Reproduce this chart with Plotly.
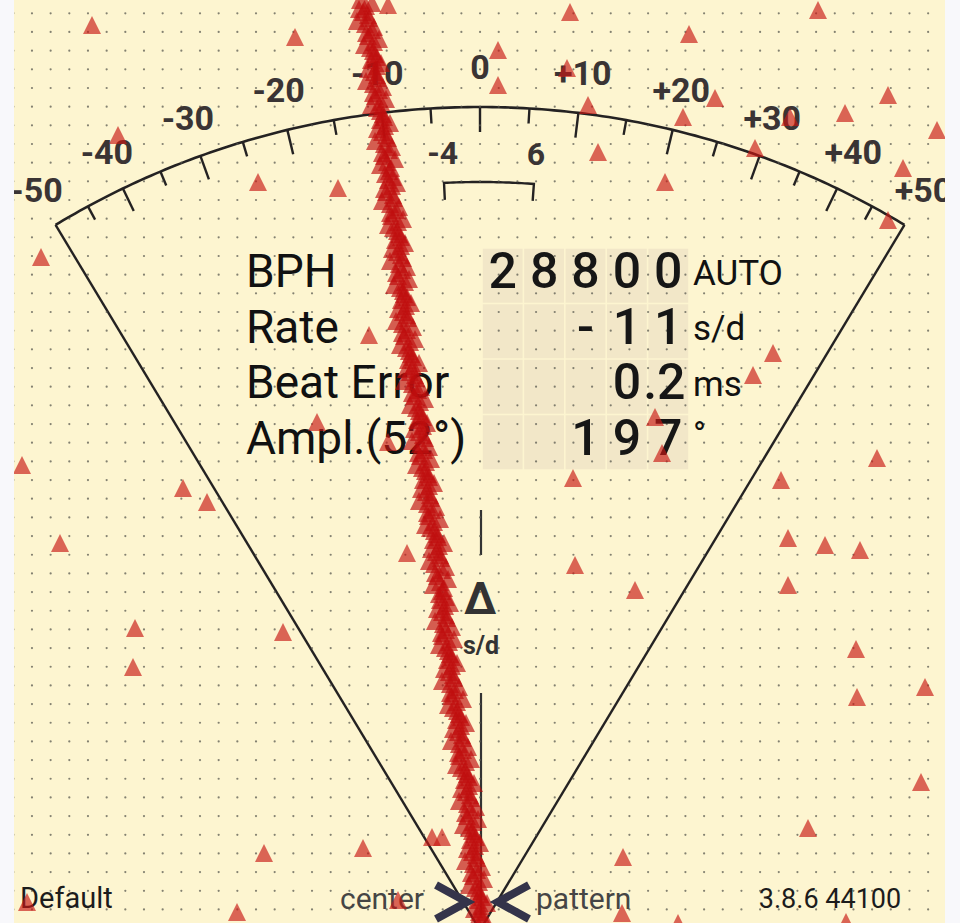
import math
import numpy as np
import plotly.graph_objects as go

# ---------------- data ----------------
scale_label_values = [-50, -40, -30, -20, -10, 0, 10, 20, 30, 40, 50]
scale_label_texts = ["-50", "-40", "-30", "-20", "-10", "0", "+10", "+20", "+30", "+40", "+50"]
scale_tick_values = list(range(-45, 50, 5))
bracket_values = [-4, 6]
bracket_texts = ["-4", "6"]

readout_names = ["BPH", "Rate", "Beat Error", "Ampl.(52°)"]
readout_cells = [
    ["2", "8", "8", "0", "0"],
    ["", "", "-", "1", "1"],
    ["", "", "", "0", ".2"],
    ["", "", "1", "9", "7"],
]
readout_units = ["AUTO", "s/d", "ms", "°"]
footer_texts = ["Default", "center", "pattern", "3.8.6 44100"]

# beat trace: horizontal position of each beat (one tick + one tock per 6 px of scroll)
tick_x = [
    360, 366, 363, 369, 365, 372, 368, 374, 370, 375,
    371, 377, 374, 378, 373, 379, 375, 381, 377, 383,
    380, 385, 382, 388, 384, 389, 384, 387, 391, 385,
    388, 392, 386, 394, 390, 396, 391, 398, 393, 399,
    395, 401, 397, 403, 399, 402, 398, 405, 400, 404,
    401, 406, 403, 408, 402, 407, 404, 410, 406, 411,
    408, 413, 410, 416, 412, 418, 414, 420, 416, 421,
    417, 423, 419, 425, 420, 424, 420, 426, 422, 428,
    423, 429, 426, 431, 427, 432, 428, 434, 430, 437,
    433, 439, 436, 441, 434, 442, 437, 440, 444, 439,
    440, 445, 442, 447, 443, 446, 442, 449, 445, 450,
    447, 452, 449, 454, 450, 455, 451, 457, 453, 459,
    456, 461, 458, 463, 459, 463, 459, 466, 461, 467,
    464, 469, 466, 471, 467, 471, 467, 473, 469, 474,
    470, 475, 472, 477, 473, 477, 473, 479, 475, 480,
    477, 481, 479, 483,
]
tock_x = [
    372, 359, 368, 357, 374, 366, 379, 364, 373, 377,
    381, 368, 377, 366, 383, 373, 386, 371, 380, 384,
    390, 377, 386, 375, 392, 382, 395, 380, 389, 393,
    397, 384, 393, 382, 399, 390, 403, 388, 397, 401,
    405, 392, 401, 390, 407, 396, 409, 394, 403, 407,
    411, 398, 407, 396, 413, 402, 415, 400, 409, 413,
    419, 406, 415, 404, 421, 412, 425, 410, 419, 423,
    427, 414, 423, 412, 429, 418, 431, 416, 425, 429,
    434, 421, 430, 419, 436, 427, 440, 425, 434, 438,
    444, 431, 440, 429, 446, 435, 448, 433, 442, 446,
    450, 437, 446, 435, 452, 441, 454, 439, 448, 452,
    457, 444, 453, 442, 459, 450, 463, 448, 457, 461,
    466, 453, 462, 451, 468, 458, 471, 456, 465, 469,
    474, 461, 470, 459, 476, 465, 478, 463, 472, 476,
    480, 467, 476, 465, 482, 471, 484, 469, 478, 482,
    487, 474, 483, 476,
]
beat_step = 6

# isolated (noise) beats
noise_x = [92, 295, 388, 570, 818, 689, 498, 498, 567, 588, 598, 715, 683, 665, 755,
           790, 888, 845, 937, 903, 888, 118, 258, 338, 41, 369, 317, 388, 22, 183,
           207, 60, 407, 135, 133, 283, 432, 442, 363, 264, 27, 237, 398, 573, 877,
           781, 788, 825, 860, 788, 575, 635, 856, 925, 857, 921, 808, 623, 622, 678,
           846, 773, 753, 655, 662]
noise_y = [25, 37, 5, 12, 10, 34, 50, 85, 68, 105, 152, 98, 117, 182, 148,
           117, 95, 113, 130, 168, 220, 135, 182, 188, 257, 335, 422, 442, 465, 488,
           502, 543, 553, 628, 667, 632, 837, 837, 848, 853, 902, 912, 900, 478, 458,
           480, 538, 545, 550, 585, 565, 590, 649, 687, 697, 782, 828, 857, 913, 923,
           922, 353, 375, 417, 453]

# ---------------- geometry ----------------
W, H = 960, 923
PX0, PX1 = 14, 945
CX, CY = 480, 930
R = 823
TAN_MAX = 0.602
INK = "#242222"
TRI = 18


def ang(v):
    return math.atan(v / 50.0 * TAN_MAX)


def pt(v, r):
    a = ang(v)
    return CX + r * math.sin(a), CY - r * math.cos(a)


shapes = []

# readout cells
col_w, row_h = 41.4, 55.5
col0, row0 = 482, 248
for j in range(4):
    for i in range(5):
        x0 = col0 + i * col_w
        y0 = row0 + j * row_h
        shapes.append(dict(type="rect", xref="x", yref="y", x0=x0 + 0.8, x1=x0 + col_w - 0.8,
                           y0=y0 + 0.8, y1=y0 + row_h - 0.8, line=dict(width=0),
                           fillcolor="#f2e7c8", layer="below"))

# arc
arc_pts = [pt(v, R) for v in np.linspace(-50, 50, 161)]
path = "M " + " L ".join(f"{x:.2f},{y:.2f}" for x, y in arc_pts)
shapes.append(dict(type="path", path=path, xref="x", yref="y", line=dict(color=INK, width=2.6), layer="below"))

# fan edges
for v in (-50, 50):
    x1, y1 = pt(v, R)
    shapes.append(dict(type="line", xref="x", yref="y", x0=x1, y0=y1, x1=CX, y1=CY,
                       line=dict(color=INK, width=2.4), layer="below"))

# ticks
for v in scale_tick_values:
    ln = 25 if v % 10 == 0 else 15
    xa, ya = pt(v, R)
    xb, yb = pt(v, R - ln)
    shapes.append(dict(type="line", xref="x", yref="y", x0=xa, y0=ya, x1=xb, y1=yb,
                       line=dict(color=INK, width=2.4), layer="below"))

# bracket
RB = 748
b_pts = [pt(v, RB) for v in np.linspace(bracket_values[0], bracket_values[1], 30)]
bx0, by0 = pt(bracket_values[0], RB - 17)
bx1, by1 = pt(bracket_values[1], RB - 17)
bpath = f"M {bx0:.2f},{by0:.2f} L " + " L ".join(f"{x:.2f},{y:.2f}" for x, y in b_pts) + f" L {bx1:.2f},{by1:.2f}"
shapes.append(dict(type="path", path=bpath, xref="x", yref="y", line=dict(color=INK, width=2.4), layer="below"))

# centre marker line
shapes.append(dict(type="line", xref="x", yref="y", x0=481, x1=481, y0=510, y1=555,
                   line=dict(color="#333333", width=2.2), layer="below"))
shapes.append(dict(type="line", xref="x", yref="y", x0=481, x1=481, y0=693, y1=915,
                   line=dict(color="#333333", width=2.2), layer="below"))

# chevrons
CHEV = "#34344a"
shapes.append(dict(type="path", path="M 436,885 L 467,902 L 436,919", xref="x", yref="y",
                   line=dict(color=CHEV, width=8), layer="above"))
shapes.append(dict(type="path", path="M 529,885 L 498,902 L 529,919", xref="x", yref="y",
                   line=dict(color=CHEV, width=8), layer="above"))

fig = go.Figure()

# dotted background grid
gx = np.arange(13.3, 946, 18.67)
gy = np.arange(13.3, 923, 18.67)
GX, GY = np.meshgrid(gx, gy)
fig.add_trace(go.Scatter(x=GX.ravel(), y=GY.ravel(), mode="markers",
                         marker=dict(size=2.2, color="rgba(90,90,80,0.75)"), hoverinfo="skip"))

# scale labels
lab_pts = [pt(v, 860) for v in scale_label_values]
fig.add_trace(go.Scatter(x=[p[0] for p in lab_pts], y=[p[1] for p in lab_pts], mode="text",
                         text=scale_label_texts, textposition="middle center",
                         textfont=dict(family="Roboto", size=34, color="#3a3434", weight="bold"),
                         hoverinfo="skip"))
blab = [pt(v, 775) for v in bracket_values]
fig.add_trace(go.Scatter(x=[p[0] for p in blab], y=[p[1] for p in blab], mode="text",
                         text=bracket_texts, textposition="middle center",
                         textfont=dict(family="Roboto", size=32, color="#3a3434", weight="bold"),
                         hoverinfo="skip"))

# readout names
row_c = [row0 + row_h * (j + 0.5) for j in range(4)]
fig.add_trace(go.Scatter(x=[246] * 4, y=row_c, mode="text", text=readout_names,
                         textposition="middle right",
                         textfont=dict(family="Roboto", size=46, color="#111111"), hoverinfo="skip"))

# readout digits
dx, dy, dt = [], [], []
for j, row in enumerate(readout_cells):
    for i, s in enumerate(row):
        if s:
            cxp = col0 + col_w * (i + 0.5)
            if s.startswith("."):
                cxp -= 4
            dx.append(cxp)
            dy.append(row_c[j])
            dt.append(s)
fig.add_trace(go.Scatter(x=dx, y=dy, mode="text", text=dt, textposition="middle center",
                         textfont=dict(family="Roboto", size=50, color="#161616", weight=500),
                         hoverinfo="skip"))

# units
fig.add_trace(go.Scatter(x=[693] * 4, y=[row_c[0], row_c[1], row_c[2], row_c[3] - 4], mode="text",
                         text=readout_units, textposition="middle right",
                         textfont=dict(family="Roboto", size=35, color="#111111"), hoverinfo="skip"))

# delta s/d
fig.add_trace(go.Scatter(x=[480, 481], y=[603, 648], mode="text", text=["Δ", "s/d"],
                         textposition="middle center",
                         textfont=dict(family="Roboto", size=[44, 25], color="#333333", weight="bold"),
                         hoverinfo="skip"))

# footer
fig.add_trace(go.Scatter(x=[20, 424], y=[901, 901], mode="text", text=[footer_texts[0], footer_texts[1]],
                         textposition=["middle right", "middle left"],
                         textfont=dict(family="Roboto", size=[29, 30], color=["#1c1c1c", "#454545"]),
                         hoverinfo="skip"))
fig.add_trace(go.Scatter(x=[536, 830], y=[901, 901], mode="text", text=[footer_texts[2], footer_texts[3]],
                         textposition=["middle right", "middle center"],
                         textfont=dict(family="Roboto", size=[30, 27], color=["#454545", "#1c1c1c"]),
                         hoverinfo="skip"))

# beats (triangles, centred via the y2 scale)
fig.add_trace(go.Scatter(x=noise_x, y=noise_y, yaxis="y2", mode="markers",
                         marker=dict(symbol="arrow-up", size=TRI, color="rgba(200,25,20,0.66)",
                                     line=dict(width=0)), hoverinfo="skip"))
tick_y = [k * beat_step for k in range(len(tick_x))]
tock_y = [k * beat_step + beat_step / 2 for k in range(len(tock_x))]
fig.add_trace(go.Scatter(x=tick_x, y=tick_y, yaxis="y2", mode="markers",
                         marker=dict(symbol="arrow-up", size=TRI, color="rgba(192,14,14,0.66)",
                                     line=dict(width=0)), hoverinfo="skip"))
fig.add_trace(go.Scatter(x=tock_x, y=tock_y, yaxis="y2", mode="markers",
                         marker=dict(symbol="arrow-up", size=TRI, color="rgba(192,14,14,0.66)",
                                     line=dict(width=0)), hoverinfo="skip"))

fig.update_layout(
    width=W, height=H, margin=dict(l=0, r=0, t=0, b=0),
    paper_bgcolor="#f8f8fb", plot_bgcolor="#fdf5d0", showlegend=False,
    xaxis=dict(range=[PX0, PX1], domain=[PX0 / W, PX1 / W], visible=False, fixedrange=True),
    yaxis=dict(range=[H, 0], domain=[0, 1], visible=False, fixedrange=True),
    yaxis2=dict(range=[H + TRI / 2, TRI / 2], overlaying="y", visible=False, fixedrange=True),
    shapes=shapes,
)

fig.write_html("out.html", config={"displayModeBar": False},
               post_script="document.body.style.margin='0';document.body.style.padding='0';")
